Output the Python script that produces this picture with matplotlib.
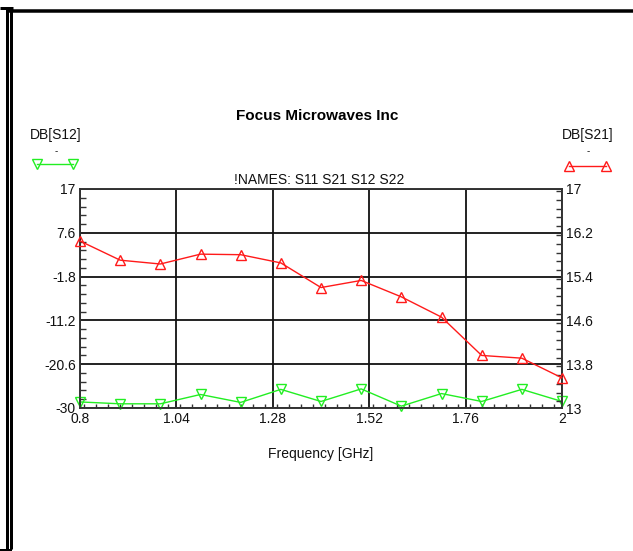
import numpy as np
import matplotlib
matplotlib.use("Agg")
import matplotlib.pyplot as plt
from matplotlib.lines import Line2D
from matplotlib.ticker import MultipleLocator, FixedLocator

plt.rcParams['font.family'] = ['Liberation Sans', 'DejaVu Sans']

# data
freq = [0.8, 0.9, 1.0, 1.1, 1.2, 1.3, 1.4, 1.5, 1.6, 1.7, 1.8, 1.9, 2.0]
db_s21 = [16.05, 15.70, 15.63, 15.81, 15.80, 15.65, 15.20, 15.33, 15.03, 14.66, 13.96, 13.91, 13.55]
db_s12 = [-28.7, -29.1, -29.1, -27.1, -28.8, -26.0, -28.6, -25.9, -29.6, -26.9, -28.6, -26.0, -28.6]

x_ticks = [0.8, 1.04, 1.28, 1.52, 1.76, 2.0]
x_labels = ['0.8', '1.04', '1.28', '1.52', '1.76', '2']
left_ticks = [-30, -20.6, -11.2, -1.8, 7.6, 17]
right_ticks = [13, 13.8, 14.6, 15.4, 16.2, 17]

W, H = 633, 551
fig = plt.figure(figsize=(W / 100, H / 100), dpi=100)

def fx(px):
    return px / W

def fy(py):
    return 1 - py / H

# window frame
frame = [((0, 13), (7.5, 7.5), 3), ((8, W), (10.5, 10.5), 3.5),
         ((7.3, 7.3), (7, 549), 3), ((11.4, 11.4), (10, 549), 3),
         ((0, 12), (549.5, 549.5), 2)]
for xs, ys, lw in frame:
    fig.add_artist(Line2D([fx(v) for v in xs], [fy(v) for v in ys],
                          color='black', lw=lw * 0.72, solid_capstyle='butt'))

ax = fig.add_axes([fx(80), fy(408), fx(562) - fx(80), fy(189) - fy(408)])
ax2 = ax.twinx()

ax.set_xlim(0.8, 2.0)
ax.set_ylim(-30, 17)
ax2.set_ylim(13, 17)

ax.xaxis.set_major_locator(FixedLocator(x_ticks))
ax.set_xticklabels(x_labels)
ax.xaxis.set_minor_locator(MultipleLocator(0.03))
ax.yaxis.set_major_locator(FixedLocator(left_ticks))
ax.set_yticklabels(['-30', '-20.6', '-11.2', '-1.8', '7.6', '17'])
ax.yaxis.set_minor_locator(FixedLocator(np.arange(-30, 17, 9.4 / 5)))
ax2.yaxis.set_major_locator(FixedLocator(right_ticks))
ax2.set_yticklabels(['13', '13.8', '14.6', '15.4', '16.2', '17'])
ax2.yaxis.set_minor_locator(MultipleLocator(0.16))

ax.grid(True, which='major', color='#111111', lw=1.3)
ax.set_axisbelow(True)

for a in (ax, ax2):
    for s in a.spines.values():
        s.set_color('#333333')
        s.set_linewidth(1.2)
    a.tick_params(which='both', direction='in', color='#333333', labelsize=10,
                  labelcolor='#111111')
    a.tick_params(which='major', length=0, pad=3)
    a.tick_params(which='minor', length=4, width=1)

ax.tick_params(axis='x', which='minor', length=3)

ax.plot(freq, db_s12, color='#22ee22', lw=1, marker='v', ms=7,
        mfc='none', mec='#22ee22', mew=1, clip_on=False, zorder=5)
ax2.plot(freq, db_s21, color='#ff1a1a', lw=1, marker='^', ms=7,
         mfc='none', mec='#ff1a1a', mew=1, clip_on=False, zorder=5)

ax.set_xlabel('Frequency [GHz]', fontsize=10, labelpad=15, color='#111111')

fig.text(fx(317), fy(116), 'Focus Microwaves Inc', ha='center', va='center',
         fontsize=11, fontweight='bold')
fig.text(fx(319), fy(180), '!NAMES: S11 S21 S12 S22', ha='center', va='center',
         fontsize=10, color='#111111')

# side legends
fig.text(fx(56), fy(135), 'DB[S12]', ha='center', va='center', fontsize=10, color='#111111')
fig.text(fx(56), fy(151), '-', ha='center', va='center', fontsize=7, color='#111111')
fig.add_artist(Line2D([fx(37), fx(73)], [fy(163.5), fy(163.5)], color='#22ee22', lw=1,
                      marker='v', ms=7, mfc='none', mec='#22ee22', mew=1))
fig.text(fx(588), fy(135), 'DB[S21]', ha='center', va='center', fontsize=10, color='#111111')
fig.text(fx(588), fy(151), '-', ha='center', va='center', fontsize=7, color='#111111')
fig.add_artist(Line2D([fx(569), fx(606)], [fy(166), fy(166)], color='#ff1a1a', lw=1,
                      marker='^', ms=7, mfc='none', mec='#ff1a1a', mew=1))

fig.savefig('out.png', dpi=100)
